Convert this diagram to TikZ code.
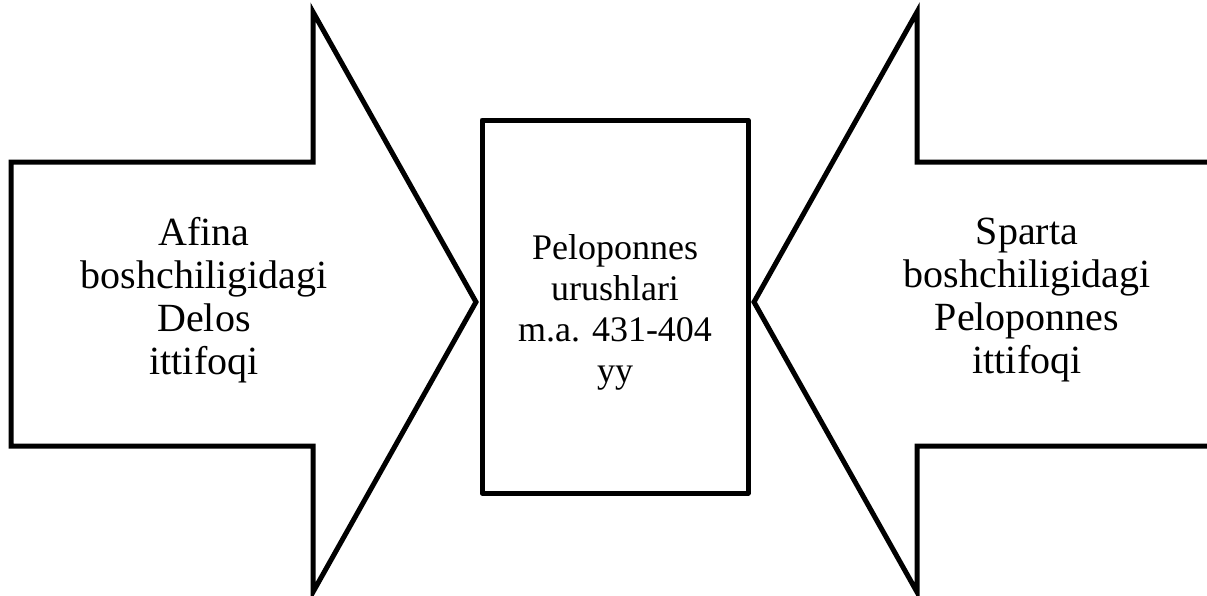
\documentclass[tikz,border=0pt]{standalone}
\usepackage{fontspec}
\setmainfont{Liberation Serif}
\begin{document}
\begin{tikzpicture}[x=1pt,y=-1pt,
  shapeline/.style={draw=black,line width=5pt,line join=miter,fill=white},
  boxline/.style={draw=black,line width=5pt,line join=round},
  bigtext/.style={align=center,font=\fontsize{40}{43}\selectfont,inner sep=0pt},
  midtext/.style={align=center,font=\fontsize{36}{41}\selectfont,inner sep=0pt}]
\useasboundingbox (0,0) rectangle (1207,595);
% left arrow
\draw[shapeline] (11,162) -- (313,162) -- (313,12) -- (476,302) -- (313,592) -- (313,446) -- (11,446) -- cycle;
% right arrow
\draw[shapeline] (1219,162) -- (917,162) -- (917,12) -- (754,302) -- (917,592) -- (917,446) -- (1219,446) -- cycle;
% center box
\node[boxline,minimum width=266pt,minimum height=373pt,inner sep=0pt] (box) at (615,306.5) {};
\node[midtext] (mid) at (615,312) {Peloponnes\\urushlari\\m.a. 431-404\\yy};
\node[bigtext] (left) at (204,300) {Afina\\boshchiligidagi\\Delos\\ittifoqi};
\node[bigtext] (right) at (1027,300) {Sparta\\boshchiligidagi\\Peloponnes\\ittifoqi};
\end{tikzpicture}
\end{document}
